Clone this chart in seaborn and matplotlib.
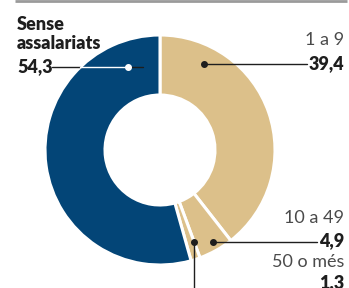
import seaborn as sns
import matplotlib.pyplot as plt
import numpy as np

sns.set_style('white')
plt.rcParams['font.family'] = ['Lato', 'DejaVu Sans']

categories = ['1 a 9', '10 a 49', '50 o més', 'Sense\nassalariats']
values = [39.4, 4.9, 1.3, 54.3]
value_labels = ['39,4', '4,9', '1,3', '54,3']
colors = ['#dcc08a', '#dcc08a', '#dcc08a', '#034577']

W, H = 349, 288
fig = plt.figure(figsize=(W / 100, H / 100), dpi=100)
ax = fig.add_axes([0, 0, 1, 1])

cx, cy, r = 160, H - 150, 115
ax.pie(values, colors=colors, startangle=90, counterclock=False,
       center=(cx, cy), radius=r, frame=True,
       wedgeprops=dict(width=60, edgecolor='white', linewidth=2.2))
ax.set_xlim(0, W)
ax.set_ylim(0, H)
ax.set_aspect('equal')
ax.axis('off')

# top rule
ax.plot([15, 347], [H - 0.5, H - 0.5], color='#9a9a9a', lw=2, solid_capstyle='butt')

dark = '#1e1e1e'
grey = '#4a4a4a'
fs = 13
bw = 'heavy'

# Sense assalariats
ax.text(17, H - 34, categories[3], fontsize=fs, fontweight=bw, color=dark,
        ha='left', va='center', linespacing=1.2)
ax.text(17, H - 67, value_labels[3], fontsize=fs, fontweight=bw, color=dark,
        ha='left', va='center')
ax.plot([52, 80], [H - 67, H - 67], color=dark, lw=1)
ax.plot([80, 128], [H - 67, H - 67], color='white', lw=1)
ax.plot([128, 143], [H - 67, H - 67], color=dark, lw=1)
ax.plot(128, H - 67, 'o', color='white', ms=4)

# 1 a 9
ax.text(344, H - 40, categories[0], fontsize=fs, fontweight='normal', color=grey,
        ha='right', va='center')
ax.text(344, H - 64, value_labels[0], fontsize=fs, fontweight=bw, color=dark,
        ha='right', va='center')
ax.plot([204, 307], [H - 64, H - 64], color=dark, lw=1)
ax.plot(204, H - 64, 'o', color=dark, ms=4)

# 10 a 49
ax.text(344, H - 218, categories[1], fontsize=fs, fontweight='normal', color=grey,
        ha='right', va='center')
ax.text(344, H - 241, value_labels[1], fontsize=fs, fontweight=bw, color=dark,
        ha='right', va='center')
ax.plot([213, 317], [H - 242, H - 242], color=dark, lw=1)
ax.plot(213, H - 242, 'o', color=dark, ms=4)

# 50 o més
ax.text(344, H - 262, categories[2], fontsize=fs, fontweight='normal', color=grey,
        ha='right', va='center')
ax.text(344, H - 283, value_labels[2], fontsize=fs, fontweight=bw, color=dark,
        ha='right', va='center')
ax.plot([194, 194], [H - 242, -5], color=dark, lw=1)
ax.plot(194, H - 242, 'o', color=dark, ms=4)

fig.savefig('out.png', dpi=100)
